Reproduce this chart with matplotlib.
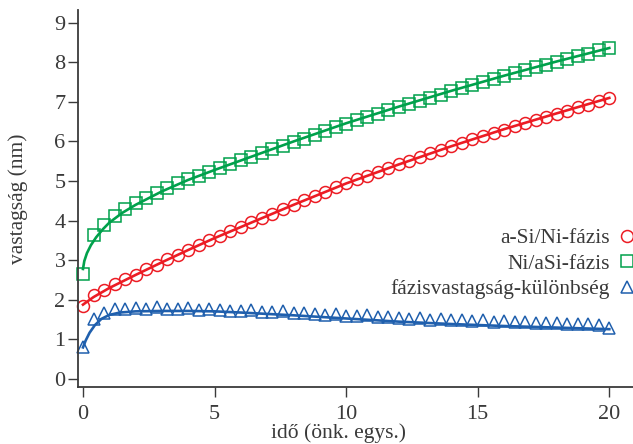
import numpy as np
import matplotlib
matplotlib.use('Agg')
import matplotlib.pyplot as plt
from matplotlib.lines import Line2D

plt.rcParams['font.family'] = ['Liberation Serif', 'DejaVu Serif']

# mért pontok (idő lépés 0.4)
ido = [round(0.4 * i, 1) for i in range(51)]

asi_ni = [1.84, 2.12, 2.26, 2.39, 2.52, 2.64, 2.77, 2.89, 3.02, 3.14,
          3.26, 3.38, 3.50, 3.61, 3.73, 3.84, 3.96, 4.07, 4.18, 4.29,
          4.40, 4.51, 4.62, 4.73, 4.84, 4.95, 5.04, 5.14, 5.23, 5.32,
          5.42, 5.51, 5.60, 5.70, 5.79, 5.88, 5.97, 6.06, 6.14, 6.22,
          6.30, 6.38, 6.46, 6.54, 6.62, 6.70, 6.78, 6.86, 6.93, 7.01,
          7.10]

ni_asi = [2.65, 3.64, 3.88, 4.12, 4.29, 4.44, 4.57, 4.70, 4.82, 4.94,
          5.05, 5.14, 5.24, 5.33, 5.42, 5.52, 5.61, 5.70, 5.80, 5.89,
          5.98, 6.07, 6.17, 6.26, 6.36, 6.45, 6.53, 6.62, 6.70, 6.79,
          6.86, 6.94, 7.02, 7.10, 7.18, 7.27, 7.35, 7.43, 7.51, 7.58,
          7.66, 7.73, 7.80, 7.87, 7.94, 8.01, 8.08, 8.15, 8.22, 8.30,
          8.35]

kulonbseg = [0.81, 1.51, 1.67, 1.78, 1.78, 1.79, 1.78, 1.81, 1.78, 1.78,
             1.79, 1.75, 1.78, 1.74, 1.72, 1.72, 1.75, 1.69, 1.69, 1.72,
             1.66, 1.68, 1.64, 1.62, 1.65, 1.60, 1.60, 1.62, 1.56, 1.58,
             1.53, 1.52, 1.55, 1.48, 1.51, 1.50, 1.49, 1.46, 1.49, 1.45,
             1.46, 1.44, 1.43, 1.42, 1.41, 1.41, 1.40, 1.38, 1.39, 1.37,
             1.30]

# illesztett görbék
t_asi_fit = [0, 0.4, 1, 2, 3, 4, 5, 6, 8, 10, 12, 14, 16, 18, 20]
asi_fit = [1.88, 2.07, 2.30, 2.63, 2.95, 3.26, 3.56, 3.84, 4.40, 4.94,
           5.42, 5.88, 6.31, 6.71, 7.10]

t_ni_fit = [0, 0.05, 0.15, 0.3, 0.5, 0.75, 1, 1.5, 2, 3, 4, 5, 6, 8, 10,
            12, 14, 16, 18, 20]
ni_fit = [2.78, 2.98, 3.18, 3.38, 3.58, 3.78, 3.95, 4.20, 4.40, 4.74, 5.03,
          5.28, 5.52, 6.00, 6.46, 6.88, 7.28, 7.66, 8.02, 8.36]

t_kul_fit = [0, 0.1, 0.25, 0.45, 0.7, 1.0, 1.4, 2, 3, 4, 5, 6, 8, 10, 12,
             14, 16, 18, 20]
kul_fit = [0.80, 0.97, 1.17, 1.36, 1.52, 1.62, 1.68, 1.71, 1.72, 1.72, 1.71,
           1.68, 1.61, 1.53, 1.45, 1.39, 1.34, 1.30, 1.26]

piros = '#ec1c24'
zold = '#00a14b'
kek = '#1f5fad'
szurke = '#3a3a3a'

fig = plt.figure(figsize=(6.33, 4.44), dpi=100)
ax = fig.add_axes([0.1232, 0.1284, 0.8768, 0.8491])

mew = 1.1
ax.plot(ido, asi_ni, 'o', ms=8.6, mfc='none', mec=piros, mew=mew, clip_on=False)
ax.plot(ido, ni_asi, 's', ms=8.2, mfc='none', mec=zold, mew=mew, clip_on=False)
ax.plot(ido, kulonbseg, '^', ms=9, mfc='none', mec=kek, mew=mew, clip_on=False)

ax.plot(t_asi_fit, asi_fit, '-', color=piros, lw=1.9)
ax.plot(t_ni_fit, ni_fit, '-', color=zold, lw=1.9)
ax.plot(t_kul_fit, kul_fit, '-', color=kek, lw=1.9)

ax.set_xlim(-0.19, 20.9)
ax.set_ylim(-0.2, 9.32)
ax.set_xticks([0, 5, 10, 15, 20])
ax.set_yticks(range(10))

for s in ['top', 'right']:
    ax.spines[s].set_visible(False)
for s in ['left', 'bottom']:
    ax.spines[s].set_color(szurke)
    ax.spines[s].set_linewidth(1.3)

ax.tick_params(axis='both', colors=szurke, labelsize=16, width=1.0,
               length=7)
ax.tick_params(axis='y', pad=2)
ax.tick_params(axis='x', pad=6)

ax.set_ylabel('vastagság (nm)', fontsize=15.5, color=szurke)
ax.yaxis.set_label_coords(-0.09, 0.5)
ax.set_xlabel('idő (önk. egys.)', fontsize=15.5, color=szurke)
ax.xaxis.set_label_coords(0.47, -0.097)

kezek = [
    Line2D([], [], ls='none', marker='o', ms=8.6, mfc='none', mec=piros, mew=mew),
    Line2D([], [], ls='none', marker='s', ms=8.2, mfc='none', mec=zold, mew=mew),
    Line2D([], [], ls='none', marker='^', ms=9, mfc='none', mec=kek, mew=mew),
]
cimkek = ['a-Si/Ni-fázis', 'Ni/aSi-fázis', 'fázisvastagság-különbség']
leg = ax.legend(kezek, cimkek, markerfirst=False, frameon=False,
                loc='center right', bbox_to_anchor=(1.02, 0.327),
                fontsize=15.5, handlelength=0.8, handletextpad=0.4,
                labelspacing=0.25, borderaxespad=0)
for t in leg.get_texts():
    t.set_color(szurke)

fig.savefig('out.png', dpi=100)
